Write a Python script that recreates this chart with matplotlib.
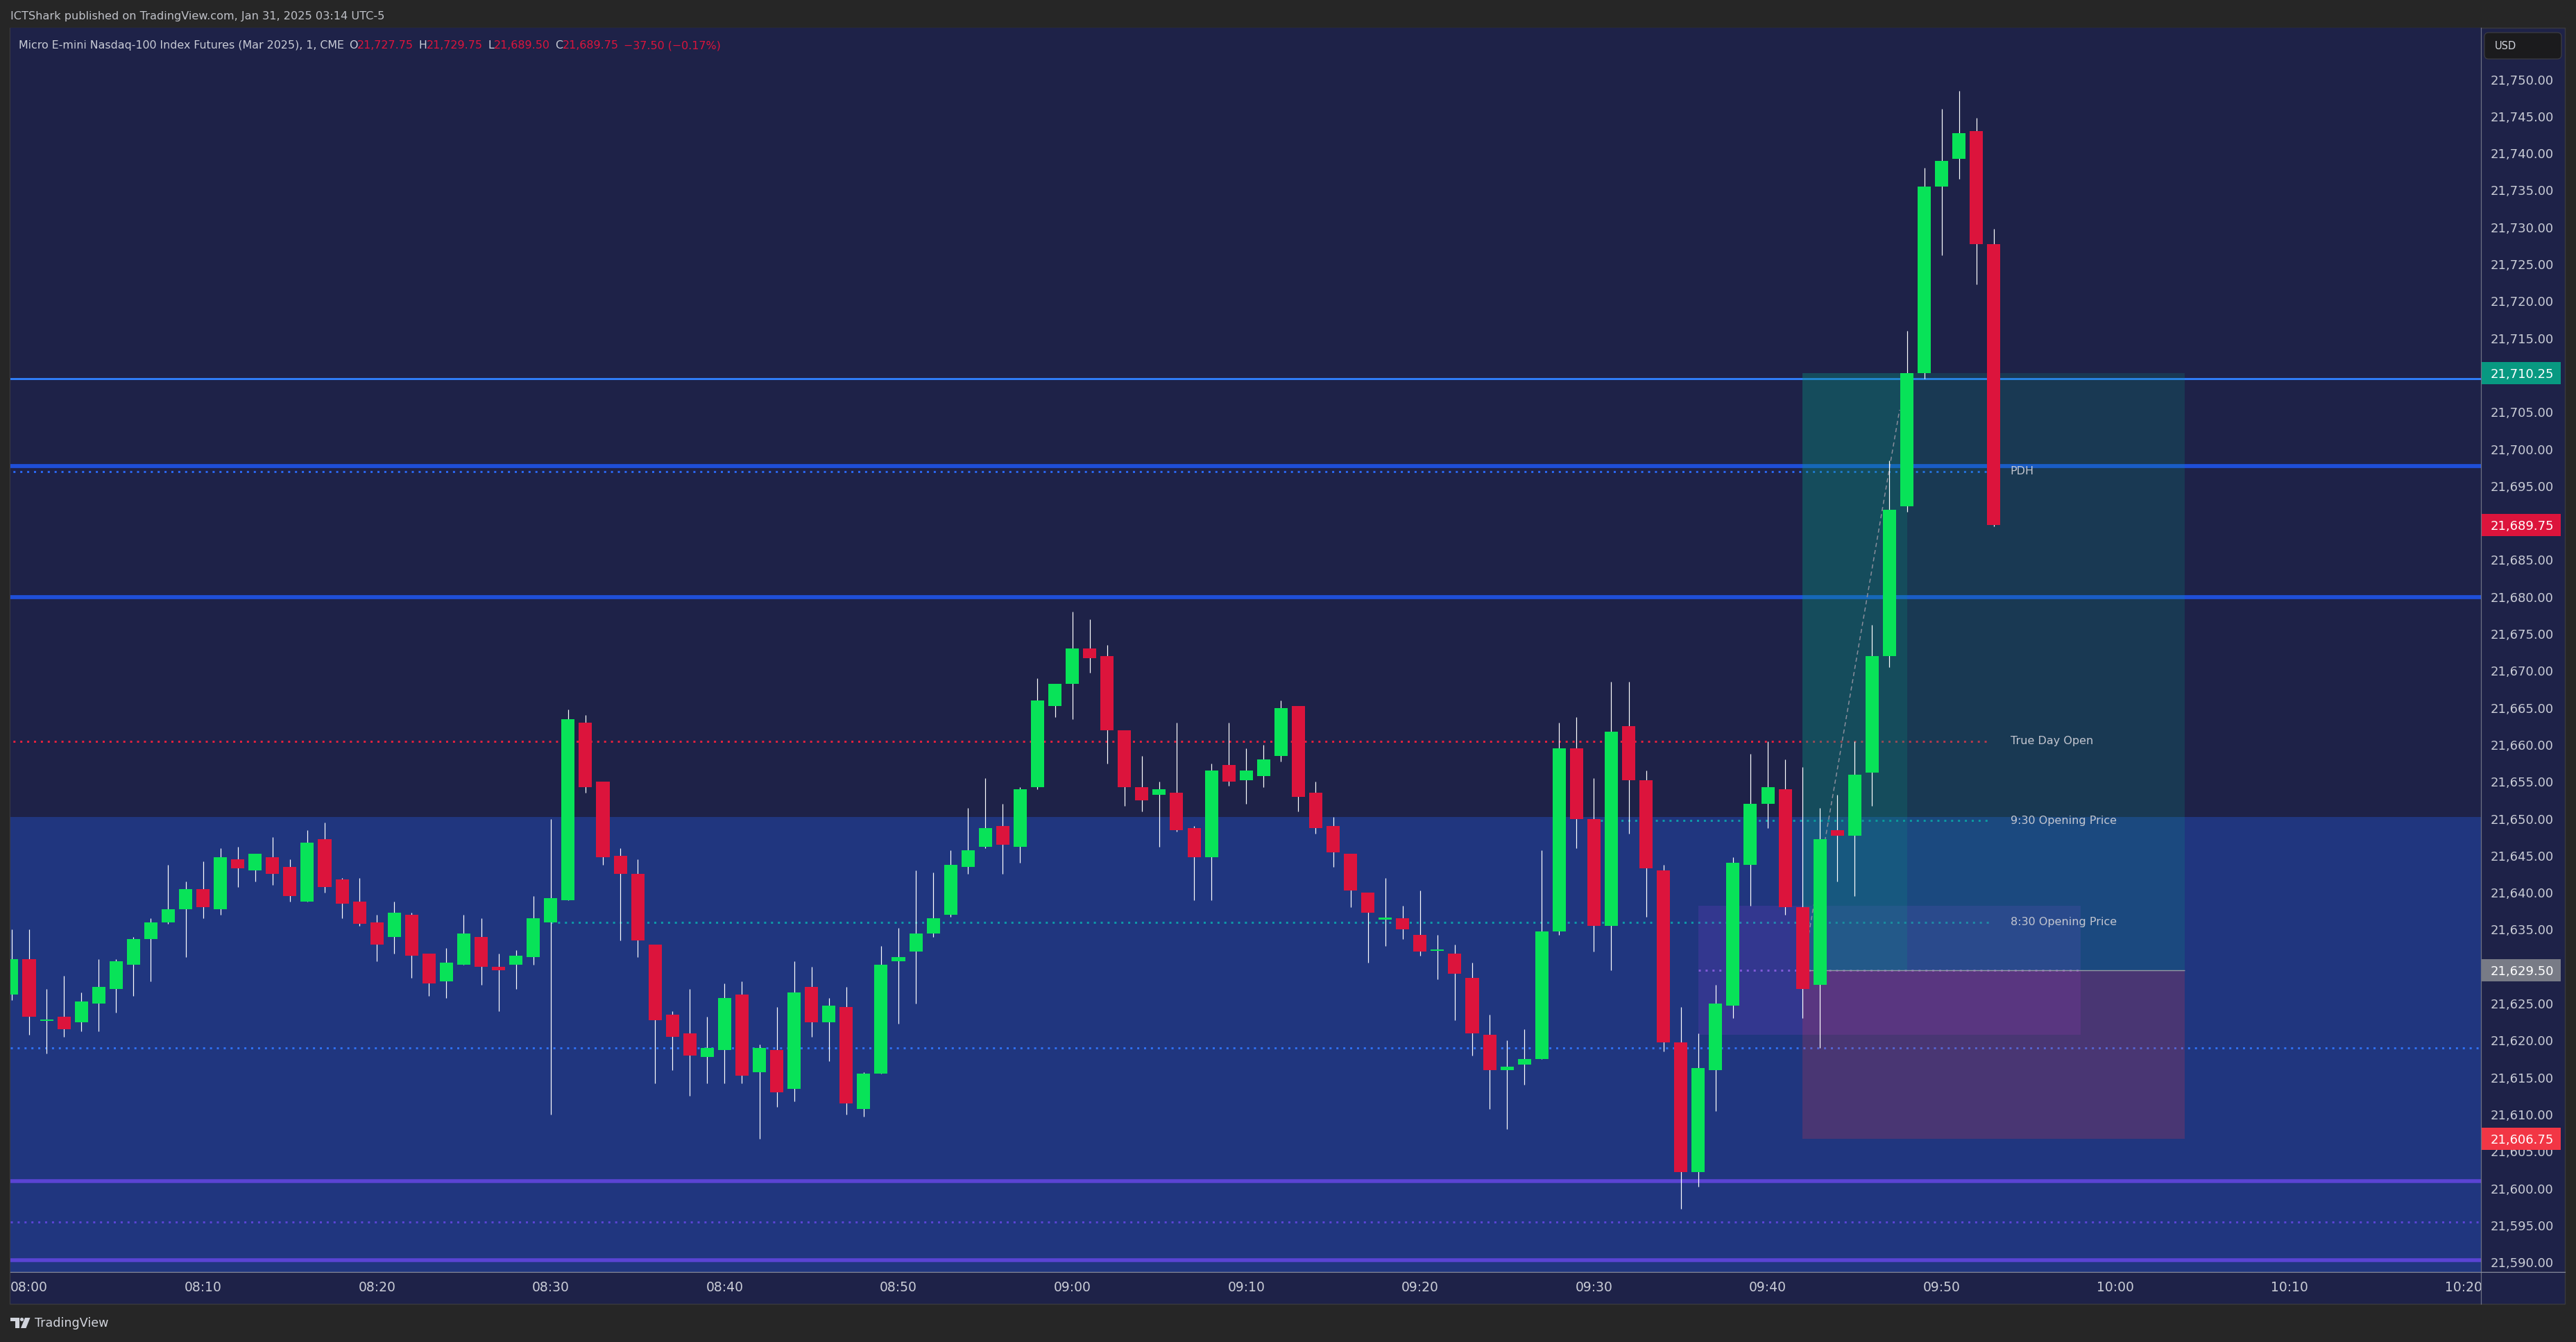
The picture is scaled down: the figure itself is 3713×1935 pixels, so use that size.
#!/usr/bin/env python3
"""Micro E-mini Nasdaq-100 futures, 1-minute candles, TradingView-style dark chart."""

import numpy as np
import matplotlib.pyplot as plt
from matplotlib.patches import Rectangle, FancyBboxPatch, Polygon, Circle
from matplotlib.transforms import blended_transform_factory

# --- Config ---
W, H = 3713, 1935
DPI = 100
PX = 72 / DPI          # points per pixel

BG_OUTER = "#262626"
PANE = "#1e2248"
ZONE = "#20367f"
GREEN = "#08e358"
RED = "#dc143c"
TEXT = "#c9ccd6"

# --- Data: one bar per minute, first bar is 07:59 ---
OPEN = [21626.25, 21631.0, 21622.75, 21623.25, 21622.5, 21625.0, 21627.0, 21630.25, 21633.75, 21636.0,
        21637.75, 21640.5, 21637.75, 21644.5, 21643.0, 21644.75, 21643.5, 21638.75, 21647.25, 21641.75,
        21638.75, 21636.0, 21634.0, 21637.0, 21631.75, 21628.0, 21630.25, 21634.0, 21630.0, 21630.25,
        21631.25, 21636.0, 21639.0, 21663.0, 21655.0, 21645.0, 21642.5, 21633.0, 21623.5, 21621.0,
        21617.75, 21618.75, 21626.25, 21615.75, 21618.75, 21613.5, 21627.25, 21622.5, 21624.5, 21610.75,
        21615.5, 21630.75, 21632.0, 21634.5, 21637.0, 21643.5, 21646.25, 21649.0, 21646.25, 21654.25,
        21665.25, 21668.25, 21673.0, 21672.0, 21662.0, 21654.25, 21653.25, 21653.5, 21648.75, 21644.75,
        21657.25, 21655.25, 21655.75, 21658.5, 21665.25, 21653.5, 21649.0, 21645.25, 21640.0, 21636.5,
        21636.5, 21634.25, 21632.25, 21631.75, 21628.5, 21620.75, 21616.0, 21616.75, 21617.5, 21634.75,
        21659.5, 21650.0, 21635.5, 21662.5, 21655.25, 21643.0, 21619.75, 21602.25, 21616.0, 21624.75,
        21643.75, 21652.0, 21654.0, 21638.0, 21627.5, 21648.5, 21647.75, 21656.25, 21672.0, 21692.25,
        21710.25, 21735.5, 21739.25, 21743.0, 21727.75]
HIGH = [21635.0, 21635.0, 21627.0, 21628.75, 21626.5, 21631.0, 21631.0, 21634.0, 21636.5, 21643.75,
        21641.5, 21644.25, 21646.0, 21646.25, 21645.25, 21647.5, 21644.5, 21648.5, 21649.5, 21642.0,
        21642.0, 21637.0, 21638.75, 21637.25, 21631.75, 21632.5, 21637.0, 21636.5, 21631.75, 21632.25,
        21639.5, 21650.0, 21664.75, 21664.0, 21655.0, 21646.0, 21644.5, 21633.0, 21624.0, 21627.0,
        21623.25, 21627.75, 21628.0, 21619.5, 21624.5, 21630.75, 21630.0, 21625.75, 21627.25, 21615.75,
        21632.75, 21635.25, 21643.0, 21642.75, 21645.75, 21651.5, 21655.5, 21652.0, 21654.25, 21669.0,
        21668.25, 21678.0, 21677.0, 21673.5, 21662.0, 21658.5, 21655.0, 21663.0, 21649.0, 21657.5,
        21663.0, 21659.5, 21660.0, 21666.0, 21665.25, 21655.0, 21650.25, 21645.25, 21640.0, 21642.0,
        21638.25, 21640.25, 21634.25, 21633.0, 21630.5, 21623.5, 21620.0, 21621.5, 21645.75, 21663.0,
        21663.75, 21655.5, 21668.5, 21668.5, 21656.5, 21643.75, 21624.5, 21621.0, 21627.5, 21644.75,
        21658.75, 21660.5, 21658.0, 21657.0, 21651.5, 21653.25, 21660.5, 21676.25, 21698.5, 21716.0,
        21738.0, 21746.0, 21748.5, 21744.75, 21729.75]
LOW = [21625.5, 21620.75, 21618.25, 21620.5, 21621.25, 21621.25, 21623.75, 21626.0, 21628.0, 21635.75,
       21631.25, 21636.5, 21637.0, 21640.75, 21641.5, 21641.0, 21638.75, 21638.75, 21640.0, 21636.5,
       21635.5, 21630.75, 21631.75, 21628.5, 21626.0, 21625.75, 21630.25, 21627.5, 21624.0, 21627.0,
       21630.25, 21610.0, 21639.0, 21653.5, 21643.75, 21633.5, 21631.25, 21614.25, 21616.0, 21612.5,
       21614.25, 21614.25, 21614.25, 21606.75, 21611.0, 21611.75, 21620.5, 21617.25, 21610.0, 21609.75,
       21615.5, 21622.25, 21625.0, 21634.0, 21636.75, 21642.5, 21646.0, 21642.5, 21644.0, 21654.0,
       21663.75, 21663.5, 21669.75, 21657.5, 21651.75, 21651.0, 21646.25, 21648.25, 21639.0, 21639.0,
       21654.5, 21652.0, 21654.25, 21657.75, 21651.0, 21648.0, 21643.5, 21638.0, 21630.5, 21632.75,
       21633.75, 21631.5, 21628.25, 21622.75, 21618.0, 21610.75, 21608.0, 21614.0, 21617.5, 21634.25,
       21646.0, 21632.0, 21629.5, 21648.0, 21636.75, 21618.5, 21597.25, 21600.25, 21610.5, 21623.0,
       21638.25, 21648.75, 21637.0, 21623.0, 21619.0, 21641.5, 21639.5, 21651.75, 21670.5, 21691.5,
       21709.5, 21726.25, 21736.5, 21722.25, 21689.5]
CLOSE = [21631.0, 21623.25, 21622.75, 21621.5, 21625.25, 21627.25, 21630.75, 21633.75, 21636.0, 21637.75,
         21640.5, 21638.0, 21644.75, 21643.25, 21645.25, 21642.5, 21639.5, 21646.75, 21640.75, 21638.5,
         21635.75, 21633.0, 21637.25, 21631.5, 21627.75, 21630.5, 21634.5, 21630.0, 21629.5, 21631.5,
         21636.5, 21639.25, 21663.5, 21654.25, 21644.75, 21642.5, 21633.5, 21622.75, 21620.5, 21618.0,
         21619.0, 21625.75, 21615.25, 21619.0, 21613.0, 21626.5, 21622.5, 21624.75, 21611.5, 21615.5,
         21630.25, 21631.25, 21634.5, 21636.5, 21643.75, 21645.75, 21648.75, 21646.5, 21654.0, 21666.0,
         21668.25, 21673.0, 21671.75, 21662.0, 21654.25, 21652.5, 21654.0, 21648.5, 21644.75, 21656.5,
         21655.0, 21656.5, 21658.0, 21665.0, 21653.0, 21648.75, 21645.5, 21640.25, 21637.25, 21636.5,
         21635.0, 21632.0, 21632.25, 21629.0, 21621.0, 21616.0, 21616.5, 21617.5, 21634.75, 21659.5,
         21650.0, 21635.5, 21661.75, 21655.25, 21643.25, 21619.75, 21602.25, 21616.25, 21625.0, 21644.0,
         21652.0, 21654.25, 21638.0, 21627.0, 21647.25, 21647.75, 21656.0, 21672.0, 21691.75, 21710.25,
         21735.5, 21739.0, 21742.75, 21727.75, 21689.75]

TIME_TICKS = [0, 10, 20, 30, 40, 50, 60, 70, 80, 90, 100, 110, 120, 130, 140]
TIME_LABELS = ["08:00", "08:10", "08:20", "08:30", "08:40", "08:50", "09:00", "09:10",
               "09:20", "09:30", "09:40", "09:50", "10:00", "10:10", "10:20"]
PRICE_TICKS = np.arange(21590, 21751, 5)

# key levels
LEVEL_TOP = 21709.5
LEVEL_PDH_LINE = 21697.75
PDH = 21697.0
LEVEL_MID = 21680.0
TRUE_DAY_OPEN = 21660.5
OPEN_930 = 21649.75
OPEN_830 = 21636.0
ZONE_TOP = 21650.25
LEVEL_LOW_DOTTED = 21619.0
PURPLE_SOLID = [21601.0, 21590.25]
PURPLE_DOTTED = 21595.5

# gap box and long position
GAP_LOW, GAP_MID, GAP_HIGH = 21620.75, 21629.5, 21638.25
ENTRY, TARGET, STOP = 21629.5, 21710.25, 21606.75
PATH_END = 21705.3

# last-price labels on the price scale
AXIS_TAGS = [21710.25, 21689.75, 21629.5, 21606.75]
AXIS_TAG_COLORS = ["#089981", "#dc143c", "#787b86", "#f23645"]

HEADER_VALUES = ["21,727.75", "21,729.75", "21,689.50", "21,689.75", "\u221237.50 (\u22120.17%)"]


def main():
    fig = plt.figure(figsize=(W / DPI, H / DPI), dpi=DPI, facecolor=BG_OUTER)

    # frame behind everything (pixel coordinates)
    bg = fig.add_axes([0, 0, 1, 1], zorder=-1)
    bg.set_xlim(0, W)
    bg.set_ylim(H, 0)
    bg.axis("off")
    bg.add_patch(Rectangle((14, 40), 3697 - 14, 1880 - 40,
                           facecolor=PANE, edgecolor="#3a3a3e", lw=1))

    # main price pane
    L, R, T, B = 15, 3576, 40, 1834
    ax = fig.add_axes([L / W, 1 - B / H, (R - L) / W, (B - T) / H])
    ax.set_facecolor(PANE)
    ax.set_xlim(-1.077, 141.02)
    ax.set_ylim(21588.70, 21756.99)
    for s in ax.spines.values():
        s.set_visible(False)

    # premium zone
    ax.axhspan(21500, ZONE_TOP, color=ZONE, lw=0, zorder=0.5)

    # levels
    dot = (0, (1, 2.3))
    lw_dot = 3 * PX
    ax.axhline(LEVEL_TOP, color="#2f7cf6", lw=3 * PX, zorder=1)
    ax.axhline(LEVEL_PDH_LINE, color="#1f4fd8", lw=5.8 * PX, zorder=1)
    ax.axhline(LEVEL_MID, color="#1f4fd8", lw=5.8 * PX, zorder=1)
    ax.hlines(PDH, -2, 112.8, color="#2a66f0", lw=lw_dot, linestyles=dot, zorder=1)
    ax.hlines(TRUE_DAY_OPEN, -2, 112.8, color="#e0213f", lw=lw_dot, linestyles=dot, zorder=1)
    ax.hlines(OPEN_930, 90, 112.8, color="#0e98a8", lw=lw_dot, linestyles=dot, zorder=1)
    ax.hlines(OPEN_830, 30, 112.8, color="#0e98a8", lw=lw_dot, linestyles=dot, zorder=1)
    ax.axhline(LEVEL_LOW_DOTTED, color="#2f6ff0", lw=lw_dot, ls=dot, zorder=1)
    for lvl in PURPLE_SOLID:
        ax.axhline(lvl, color="#5a44d4", lw=5.5 * PX, zorder=1)
    ax.axhline(PURPLE_DOTTED, color="#5a44d4", lw=lw_dot, ls=dot, zorder=1)

    # gap box
    ax.add_patch(Rectangle((96, GAP_LOW), 22, GAP_HIGH - GAP_LOW,
                           facecolor=(132 / 255, 64 / 255, 212 / 255), alpha=0.2, lw=0, zorder=2))
    ax.hlines(GAP_MID, 96, 118, color="#7e5ad6", lw=lw_dot, linestyles=dot, zorder=2)

    # long position
    ax.add_patch(Rectangle((102, ENTRY), 22, TARGET - ENTRY,
                           facecolor="#089981", alpha=0.2, lw=0, zorder=2))
    ax.add_patch(Rectangle((102, ENTRY), 6, TARGET - ENTRY,
                           facecolor="#089981", alpha=0.2, lw=0, zorder=2))
    ax.add_patch(Rectangle((102, STOP), 22, ENTRY - STOP,
                           facecolor="#f23645", alpha=0.2, lw=0, zorder=2))
    ax.hlines(ENTRY, 102, 124, color="#9598a1", lw=1.4 * PX, zorder=2.2)
    ax.plot([102, 107.58], [ENTRY, PATH_END], color="#8a8e9c", lw=1.5 * PX,
            ls=(0, (4, 3)), zorder=2.5)

    # candles
    o, h, l, c = (np.array(v) for v in (OPEN, HIGH, LOW, CLOSE))
    x = np.arange(len(o)) - 1
    colors = np.where(c >= o, GREEN, RED)
    span = np.abs(c - o)
    body = np.maximum(span, 0.2)
    bottom = np.minimum(o, c) - (body - span) / 2
    ax.vlines(x, l, h, color="white", lw=1.2 * PX, zorder=3)
    ax.bar(x, body, bottom=bottom, width=0.76, color=colors, lw=0, zorder=4)

    # level labels
    for y, txt in [(PDH, "PDH"), (TRUE_DAY_OPEN, "True Day Open"),
                   (OPEN_930, "9:30 Opening Price"), (OPEN_830, "8:30 Opening Price")]:
        ax.text(113.95, y, txt, color="#c3c6d0", fontsize=11.5, ha="left", va="center", zorder=5)

    # axes ticks
    ax.yaxis.tick_right()
    ax.set_yticks(PRICE_TICKS)
    ax.set_yticklabels([f"{v:,.2f}" for v in PRICE_TICKS])
    ax.tick_params(axis="y", length=0, pad=14 * PX, labelsize=13, labelcolor=TEXT)
    ax.set_xticks(TIME_TICKS)
    ax.set_xticklabels(TIME_LABELS)
    ax.tick_params(axis="x", length=0, pad=9, labelsize=13.5, labelcolor=TEXT)

    # coloured price tags on the scale
    trans = blended_transform_factory(ax.transAxes, ax.transData)
    half = 16 / 10.66
    for price, col in zip(AXIS_TAGS, AXIS_TAG_COLORS):
        ax.add_patch(Rectangle((1.0, price - half), 115 / (R - L), 2 * half,
                               transform=trans, facecolor=col, lw=0,
                               clip_on=False, zorder=10))
        ax.text(1 + 14 / (R - L), price, f"{price:,.2f}", transform=trans,
                color="white", fontsize=13, ha="left", va="center_baseline",
                clip_on=False, zorder=11)

    # overlay: separators, header, logo (pixel coordinates)
    top = fig.add_axes([0, 0, 1, 1], zorder=10)
    top.set_xlim(0, W)
    top.set_ylim(H, 0)
    top.axis("off")
    top.plot([R, R], [40, 1880], color="#6f7385", lw=1.2 * PX)
    top.plot([L, 3697], [B, B], color="#8a8e9e", lw=1.2 * PX)

    top.add_patch(FancyBboxPatch((3581, 47), 111, 38,
                                 boxstyle="round,pad=0,rounding_size=6",
                                 facecolor="#1b1b1d", edgecolor="#3d3d42", lw=1.2 * PX))
    top.text(3596, 66, "USD", color="#d1d4dc", fontsize=10.5, ha="left", va="center")

    top.text(15, 23, "ICTShark published on TradingView.com, Jan 31, 2025 03:14 UTC-5",
             color="#bfc1c8", fontsize=11.6, ha="left", va="center")

    pieces = [("Micro E-mini Nasdaq-100 Index Futures (Mar 2025), 1, CME", TEXT, 0),
              ("O", TEXT, 5), (HEADER_VALUES[0], RED, 0),
              ("H", TEXT, 5), (HEADER_VALUES[1], RED, 0),
              ("L", TEXT, 5), (HEADER_VALUES[2], RED, 0),
              ("C", TEXT, 5), (HEADER_VALUES[3], RED, 0),
              (HEADER_VALUES[4], RED, 5)]
    prev = top.text(27, 73, pieces[0][0], color=pieces[0][1], fontsize=11.4,
                    ha="left", va="bottom")
    for txt, col, gap in pieces[1:]:
        prev = top.annotate(txt, xy=(1, 0), xycoords=prev, xytext=(gap, 0),
                            textcoords="offset points", color=col, fontsize=11.4,
                            ha="left", va="bottom")

    # TradingView logo
    logo = "#d1d4dc"
    top.add_patch(Polygon([(15, 1900), (28, 1900), (28, 1915), (22, 1915),
                           (22, 1905), (15, 1905)], closed=True, color=logo, lw=0))
    top.add_patch(Circle((31.5, 1902.5), 2.6, color=logo, lw=0))
    top.add_patch(Polygon([(36, 1900), (43.5, 1900), (37.5, 1915), (30, 1915)],
                          closed=True, color=logo, lw=0))
    top.text(50, 1908, "TradingView", color=logo, fontsize=12.6, ha="left", va="center")

    fig.savefig("out.png", dpi=DPI, facecolor=fig.get_facecolor())


if __name__ == "__main__":
    main()
